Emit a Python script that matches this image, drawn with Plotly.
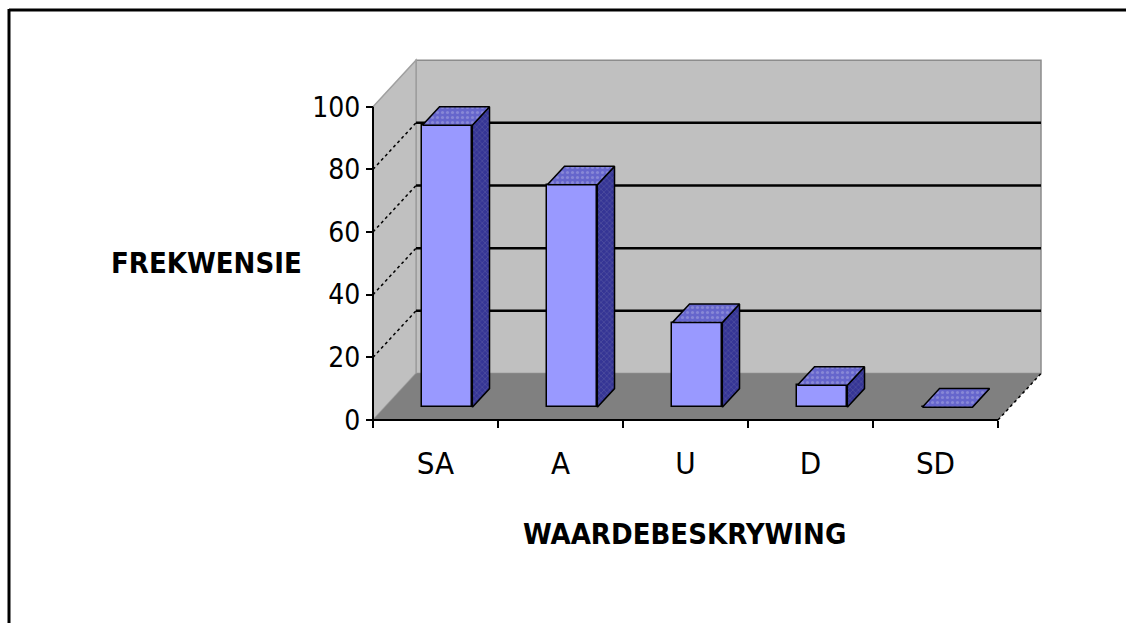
import plotly.graph_objects as go

# ---- data ----
categories = ["SA", "A", "U", "D", "SD"]
frequencies = [90, 71, 27, 7, 0]
y_ticks = [0, 20, 40, 60, 80, 100]
y_title = "FREKWENSIE"
x_title = "WAARDEBESKRYWING"

# ---- layout geometry (pixels) ----
W, H = 1126, 623
PX_X0 = 373          # pixel of x = -0.5 (front-left corner)
PX_CAT = 125.0       # pixels per category
PY_0 = 420           # pixel of value 0 on front plane
PY_UNIT = 3.133      # pixels per value unit
DEPTH_PX = (43, 46.5)
DX = DEPTH_PX[0] / PX_CAT        # depth in category units
DY = DEPTH_PX[1] / PY_UNIT       # depth in value units
F0 = 0.275           # bar front position (fraction of depth)
FD = 0.40            # bar depth (fraction of depth)
BAR_W = 0.4
YMAX = 100

# plot area in pixels
PA_L, PA_R, PA_T, PA_B = 355, 1060, 45, 440
x_range = [-0.5 + (PA_L - PX_X0) / PX_CAT, -0.5 + (PA_R - PX_X0) / PX_CAT]
y_range = [(PY_0 - PA_B) / PY_UNIT, (PY_0 - PA_T) / PY_UNIT]

FONT = "DejaVu Sans Condensed, Liberation Sans Narrow, Arial Narrow, sans-serif"

n = len(categories)
xl_front, xr_front = -0.5, n - 0.5

shapes = []
# back wall
shapes.append(dict(type="rect", xref="x", yref="y", layer="below",
                   x0=xl_front + DX, x1=xr_front + DX, y0=DY, y1=YMAX + DY,
                   fillcolor="#C0C0C0", line=dict(color="#8C8C8C", width=1.5)))
# left wall
shapes.append(dict(type="path", xref="x", yref="y", layer="below",
                   path=f"M {xl_front},0 L {xl_front},{YMAX} L {xl_front+DX},{YMAX+DY} L {xl_front+DX},{DY} Z",
                   fillcolor="#C0C0C0", line=dict(color="#A0A0A0", width=1.5)))
# floor
shapes.append(dict(type="path", xref="x", yref="y", layer="below",
                   path=f"M {xl_front},0 L {xr_front},0 L {xr_front+DX},{DY} L {xl_front+DX},{DY} Z",
                   fillcolor="#808080", line=dict(width=0)))
# floor right diagonal edge
shapes.append(dict(type="line", xref="x", yref="y", layer="below",
                   x0=xr_front, y0=0, x1=xr_front + DX, y1=DY,
                   line=dict(color="black", width=1.5, dash="dot")))
# gridlines on back wall and left wall
for v in y_ticks[1:-1]:
    shapes.append(dict(type="line", xref="x", yref="y", layer="below",
                       x0=xl_front + DX, x1=xr_front + DX, y0=v + DY, y1=v + DY,
                       line=dict(color="black", width=2.5)))
    shapes.append(dict(type="line", xref="x", yref="y", layer="below",
                       x0=xl_front, x1=xl_front + DX, y0=v, y1=v + DY,
                       line=dict(color="black", width=1.5, dash="dot")))
# front axis lines
shapes.append(dict(type="line", xref="x", yref="y", layer="above",
                   x0=xl_front, x1=xl_front, y0=0, y1=YMAX,
                   line=dict(color="black", width=2)))
shapes.append(dict(type="line", xref="x", yref="y", layer="above",
                   x0=xl_front, x1=xr_front, y0=0, y1=0,
                   line=dict(color="black", width=2)))
# outer frame (top and left)
shapes.append(dict(type="line", xref="paper", yref="paper",
                   x0=9 / W, x1=1, y0=1 - 10 / H, y1=1 - 10 / H,
                   line=dict(color="black", width=3)))
shapes.append(dict(type="line", xref="paper", yref="paper",
                   x0=9 / W, x1=9 / W, y0=0, y1=1 - 9 / H,
                   line=dict(color="black", width=3)))

# ---- bar faces ----
base = F0 * DY
xc = [i + F0 * DX for i in range(n)]
side_x, side_y, top_x, top_y = [], [], [], []
for c, v in zip(xc, frequencies):
    xl, xr = c - BAR_W / 2, c + BAR_W / 2
    t = base + v
    side_x += [xr, xr, xr + FD * DX, xr + FD * DX, xr, None]
    side_y += [base, t, t + FD * DY, base + FD * DY, base, None]
    top_x += [xl, xr, xr + FD * DX, xl + FD * DX, xl, None]
    top_y += [t, t, t + FD * DY, t + FD * DY, t, None]

fig = go.Figure()
fig.add_trace(go.Bar(x=xc, y=frequencies, base=base, width=BAR_W,
                     marker=dict(color="#9999FF", line=dict(color="black", width=1.5)),
                     hoverinfo="skip"))
fig.add_trace(go.Scatter(x=side_x, y=side_y, mode="lines", fill="toself",
                         fillcolor="#333399",
                         fillpattern=dict(shape="x", bgcolor="#353595", fgcolor="#8080B0",
                                          size=4, solidity=0.25),
                         line=dict(color="black", width=1.5), hoverinfo="skip"))
fig.add_trace(go.Scatter(x=top_x, y=top_y, mode="lines", fill="toself",
                         fillcolor="#6666CC",
                         fillpattern=dict(shape=".", bgcolor="#6666CC", fgcolor="#A8A8E0",
                                          size=5, solidity=0.3),
                         line=dict(color="black", width=1.5), hoverinfo="skip"))

fig.update_layout(
    width=W, height=H, autosize=False,
    margin=dict(l=0, r=0, t=0, b=0),
    paper_bgcolor="white", plot_bgcolor="rgba(0,0,0,0)",
    showlegend=False, bargap=0,
    shapes=shapes,
    font=dict(family=FONT, color="black"),
    xaxis=dict(domain=[PA_L / W, PA_R / W], range=x_range, anchor="free",
               position=1 - PY_0 / H,
               showgrid=False, zeroline=False, showline=False,
               tickmode="array", tickvals=list(range(n)), ticktext=categories,
               ticks="", ticklabelstandoff=22,
               tickfont=dict(family=FONT, size=31, color="black"),
               minor=dict(tickmode="array", tickvals=[i - 0.5 for i in range(n + 1)],
                          ticks="outside", ticklen=7, tickwidth=2, tickcolor="black")),
    yaxis=dict(domain=[1 - PA_B / H, 1 - PA_T / H], range=y_range, anchor="free",
               position=PX_X0 / W,
               showgrid=False, zeroline=False, showline=False,
               tickmode="array", tickvals=y_ticks,
               ticks="outside", ticklen=7, tickwidth=2, tickcolor="black",
               tickfont=dict(family=FONT, size=28, color="black")),
    annotations=[
        dict(text=y_title, xref="paper", yref="paper", x=206 / W, y=1 - 263 / H,
             showarrow=False, xanchor="center", yanchor="middle",
             font=dict(family=FONT, size=29, color="black", weight="bold")),
        dict(text=x_title, xref="paper", yref="paper", x=684 / W, y=1 - 534 / H,
             showarrow=False, xanchor="center", yanchor="middle",
             font=dict(family=FONT, size=29, color="black", weight="bold")),
    ],
)

fig.write_html("out.html")
